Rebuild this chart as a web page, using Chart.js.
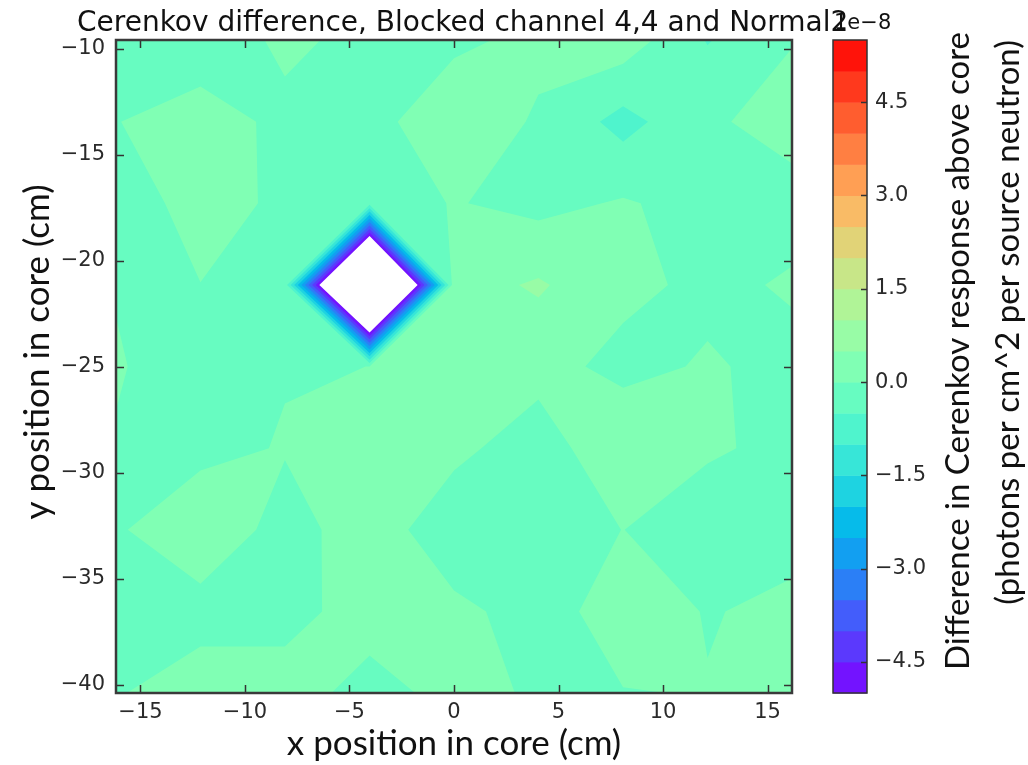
<!DOCTYPE html>
<html>
<head>
<meta charset="utf-8">
<title>Cerenkov difference</title>
<script src="https://cdn.jsdelivr.net/npm/chart.js@4.4.1/dist/chart.umd.min.js"></script>
<style>
  html, body { margin: 0; padding: 0; background: #fff; }
  #wrap { width: 1028px; height: 765px; position: relative; }
</style>
</head>
<body>
<div id="wrap"><canvas id="cerenkov"></canvas></div>
<script>
// mesh positions across the core (cm)
const xCentres = [-16.17, -12.13, -8.09, -4.04, 0, 4.04, 8.09, 12.13, 16.17];
const yCentres = [-9.58, -13.43, -17.28, -21.13, -24.98, -28.83, -32.68, -36.53, -40.38];

// blocked minus normal response, units of 1e-8, one row per y position (top to bottom)
const row0 = [-0.20, -0.41, 0.13, -0.18, -0.04, 0.05, 0.28, -0.53, -0.02];
const row1 = [-0.02, 0.31, -0.16, -0.07, 0.14, -0.025, -0.68, -0.07, 0.18];
const row2 = [-0.20, 0.145, -0.068, -0.30, 0.03, -0.15, 0.05, -0.19, -0.17];
const row3 = [-0.033, -0.005, -0.20, -12.0, 0.30, 0.56, 0.12, -0.106, 0.05];
const row4 = [0.05, -0.31, -0.029, 0.0015, 0.20, 0.17, -0.137, 0.048, -0.129];
const row5 = [-0.044, -0.15, 0.035, 0.20, 0.12, -0.25, 0.39, 0.06, -0.116];
const row6 = [-0.065, 0.40, -0.206, 0.27, -0.32, -0.20, 0.005, -0.256, -0.11];
const row7 = [-0.15, -0.206, -0.20, 0.255, 0.11, -0.18, 0.195, -0.02, 0.075];
const row8 = [-0.04, 0.273, 0.265, -0.217, 0.185, -0.072, -0.015, 0.015, 0.10];
const diffRows = [row0, row1, row2, row3, row4, row5, row6, row7, row8];

// contour levels (1e-8) and tick labels
const levels = [-5.0, -4.5, -4.0, -3.5, -3.0, -2.5, -2.0, -1.5, -1.0, -0.5, 0.0,
                0.5, 1.0, 1.5, 2.0, 2.5, 3.0, 3.5, 4.0, 4.5, 5.0, 5.5];
const xTicks = [-15, -10, -5, 0, 5, 10, 15];
const yTicks = [-10, -15, -20, -25, -30, -35, -40];
const cbTicks = [-4.5, -3.0, -1.5, 0.0, 1.5, 3.0, 4.5];

const titleText = 'Cerenkov difference, Blocked channel 4,4 and Normal2';
const yTitle = 'y position in core (cm)';
const cbLabel = ['Difference in Cerenkov response above core',
                 '(photons per cm^2 per source neutron)'];

// matplotlib 'rainbow' colormap
function rainbow(t) {
    const c = v => Math.round(255 * Math.min(1, Math.max(0, v)));
    return 'rgb(' + c(Math.abs(2 * t - 0.5)) + ',' + c(Math.sin(Math.PI * t)) + ',' + c(Math.cos(Math.PI * t / 2)) + ')';
}
const bandColours = levels.slice(0, -1).map((_, k) => rainbow((k + 0.5) / (levels.length - 1)));

const withMinus = s => String(s).replace('-', '\u2212');

// point where the level crosses the edge p -> q
function edgePoint(p, q, lvl) {
    const t = (lvl - p.v) / (q.v - p.v);
    return { x: p.x + t * (q.x - p.x), y: p.y + t * (q.y - p.y) };
}

// part of cell (i,j) where value >= lvl, saddles split by the cell mean
function cellPieces(i, j, lvl) {
    const ring = [
        { x: xCentres[i], y: yCentres[j], v: diffRows[j][i] },
        { x: xCentres[i + 1], y: yCentres[j], v: diffRows[j][i + 1] },
        { x: xCentres[i + 1], y: yCentres[j + 1], v: diffRows[j + 1][i + 1] },
        { x: xCentres[i], y: yCentres[j + 1], v: diffRows[j + 1][i] }
    ];
    const above = ring.map(p => p.v >= lvl);
    const saddle = above[0] === above[2] && above[1] === above[3] && above[0] !== above[1];
    const mean = (ring[0].v + ring[1].v + ring[2].v + ring[3].v) / 4;
    if (saddle && mean < lvl) {
        const pieces = [];
        ring.forEach((p, k) => {
            if (!above[k]) return;
            pieces.push([edgePoint(ring[(k + 3) % 4], p, lvl), p, edgePoint(p, ring[(k + 1) % 4], lvl)]);
        });
        return pieces;
    }
    const poly = [];
    ring.forEach((p, k) => {
        if (above[k]) poly.push(p);
        if (above[k] !== above[(k + 1) % 4]) poly.push(edgePoint(p, ring[(k + 1) % 4], lvl));
    });
    return poly.length > 2 ? [poly] : [];
}

const contourPlugin = {
    id: 'contourFill',
    beforeDatasetsDraw(chart) {
        const { ctx, chartArea: a, scales: { x, y } } = chart;
        ctx.save();
        ctx.beginPath();
        ctx.rect(a.left, a.top, a.width, a.height);
        ctx.clip();
        for (let k = 0; k < levels.length - 1; k++) {
            ctx.beginPath();
            for (let j = 0; j < yCentres.length - 1; j++) {
                for (let i = 0; i < xCentres.length - 1; i++) {
                    cellPieces(i, j, levels[k]).forEach(poly => {
                        poly.forEach((p, n) => {
                            const px = x.getPixelForValue(p.x), py = y.getPixelForValue(p.y);
                            if (n) ctx.lineTo(px, py); else ctx.moveTo(px, py);
                        });
                        ctx.closePath();
                    });
                }
            }
            ctx.fillStyle = bandColours[k];
            ctx.fill();
        }
        ctx.restore();
    },
    afterDraw(chart) {
        const { ctx, chartArea: a, scales: { x, y, cb } } = chart;
        ctx.save();

        // frame with inward ticks
        ctx.strokeStyle = '#333';
        ctx.lineWidth = 1.5;
        xTicks.forEach(v => {
            const px = Math.round(x.getPixelForValue(v)) + 0.5;
            ctx.beginPath();
            ctx.moveTo(px, a.bottom); ctx.lineTo(px, a.bottom - 8);
            ctx.moveTo(px, a.top); ctx.lineTo(px, a.top + 8);
            ctx.stroke();
        });
        yTicks.forEach(v => {
            const py = Math.round(y.getPixelForValue(v)) + 0.5;
            ctx.beginPath();
            ctx.moveTo(a.left, py); ctx.lineTo(a.left + 8, py);
            ctx.moveTo(a.right, py); ctx.lineTo(a.right - 8, py);
            ctx.stroke();
        });
        ctx.lineWidth = 2.5;
        ctx.strokeStyle = '#3a3a3a';
        ctx.strokeRect(a.left, a.top, a.width, a.height);

        // colour bar
        const barLeft = cb.left + 41, barWidth = 34;
        for (let k = 0; k < levels.length - 1; k++) {
            const y1 = cb.getPixelForValue(levels[k]);
            const y2 = cb.getPixelForValue(levels[k + 1]);
            ctx.fillStyle = bandColours[k];
            ctx.fillRect(barLeft, y2, barWidth, y1 - y2 + 0.5);
        }
        ctx.lineWidth = 1.5;
        ctx.strokeStyle = '#333';
        cbTicks.forEach(v => {
            const py = Math.round(cb.getPixelForValue(v)) + 0.5;
            ctx.beginPath();
            ctx.moveTo(barLeft + barWidth, py); ctx.lineTo(barLeft + barWidth - 6, py);
            ctx.stroke();
        });
        ctx.strokeRect(barLeft, cb.getPixelForValue(levels[levels.length - 1]), barWidth,
            cb.getPixelForValue(levels[0]) - cb.getPixelForValue(levels[levels.length - 1]));

        // y axis title and colour bar label, rotated to read upwards
        ctx.fillStyle = '#111';
        ctx.textBaseline = 'middle';
        ctx.font = '35px Lato';
        ctx.textAlign = 'center';
        ctx.save();
        ctx.translate(38, 352);
        ctx.rotate(-Math.PI / 2);
        ctx.fillText(yTitle, 0, 0);
        ctx.restore();

        ctx.font = '33px Lato';
        ctx.textAlign = 'right';
        [[958, 32], [1008, 40]].forEach((pos, n) => {
            ctx.save();
            ctx.translate(pos[0], pos[1]);
            ctx.rotate(-Math.PI / 2);
            ctx.fillText(cbLabel[n], 0, 0);
            ctx.restore();
        });

        // title and offset text
        ctx.font = '28px "DejaVu Sans"';
        ctx.textAlign = 'left';
        ctx.textBaseline = 'alphabetic';
        ctx.fillText(titleText, 77, 31);
        ctx.font = '21px "DejaVu Sans"';
        ctx.fillText('1e\u22128', barLeft + 1, 29);
        ctx.restore();
    }
};

const nodes = [];
diffRows.forEach((row, j) => row.forEach((v, i) => nodes.push({ x: xCentres[i], y: yCentres[j], v: v })));

const tickFont = { family: 'DejaVu Sans', size: 21 };

new Chart(document.getElementById('cerenkov'), {
    type: 'scatter',
    data: { datasets: [{ label: 'mesh', data: nodes, pointRadius: 0, showLine: false }] },
    options: {
        responsive: true,
        maintainAspectRatio: false,
        animation: false,
        layout: { padding: { top: 40, left: 0, right: 0, bottom: 0 } },
        plugins: { legend: { display: false }, tooltip: { enabled: false }, title: { display: false } },
        scales: {
            x: {
                type: 'linear', position: 'bottom',
                min: xCentres[0], max: xCentres[xCentres.length - 1],
                afterBuildTicks: s => { s.ticks = xTicks.map(v => ({ value: v })); },
                afterFit: s => { s.height = 72; },
                grid: { display: false, drawTicks: false },
                border: { display: false },
                ticks: { font: tickFont, color: '#2a2a2a', padding: 7, maxRotation: 0, callback: v => withMinus(v) },
                title: { display: true, text: 'x position in core (cm)', font: { family: 'Lato', size: 35 }, color: '#111', padding: { top: 0, bottom: 0 } }
            },
            y: {
                type: 'linear', position: 'left',
                min: yCentres[yCentres.length - 1], max: yCentres[0],
                afterBuildTicks: s => { s.ticks = yTicks.map(v => ({ value: v })); },
                afterFit: s => { s.width = 116; },
                grid: { display: false, drawTicks: false },
                border: { display: false },
                ticks: { font: tickFont, color: '#2a2a2a', padding: 11, callback: v => withMinus(v) }
            },
            cb: {
                type: 'linear', axis: 'y', position: 'right',
                min: levels[0], max: levels[levels.length - 1],
                afterBuildTicks: s => { s.ticks = cbTicks.map(v => ({ value: v })); },
                afterFit: s => { s.width = 236; },
                grid: { display: false, drawTicks: true, tickLength: 75 },
                border: { display: false },
                ticks: { font: tickFont, color: '#2a2a2a', padding: 8, callback: v => withMinus(v.toFixed(1)) }
            }
        }
    },
    plugins: [contourPlugin]
});
</script>
</body>
</html>
